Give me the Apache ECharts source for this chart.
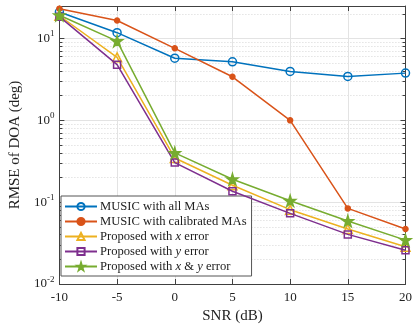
<!DOCTYPE html>
<html>
<head>
<meta charset="utf-8">
<script src="https://cdn.jsdelivr.net/npm/echarts@6/dist/echarts.min.js"></script>
<style>
  html, body { margin: 0; padding: 0; background: #fff; }
  #main { width: 415px; height: 333px; }
</style>
</head>
<body>
<div id="main"></div>
<script>
// SNR values (dB)
var snr = [-10, -5, 0, 5, 10, 15, 20];
var seriesNames = [
  'MUSIC with all MAs',
  'MUSIC with calibrated MAs',
  'Proposed with x error',
  'Proposed with y error',
  'Proposed with x & y error'
];
// RMSE of DOA (deg)
var musicAll = [21.1, 11.8, 5.75, 5.2, 3.96, 3.44, 3.78];
var musicCal = [23.2, 16.6, 7.6, 3.41, 1.0, 0.084, 0.047];
var propX = [19.0, 5.9, 0.347, 0.161, 0.081, 0.047, 0.0285];
var propY = [18.5, 4.8, 0.305, 0.136, 0.073, 0.0404, 0.0258];
var propXY = [19.3, 9.3, 0.40, 0.191, 0.104, 0.059, 0.0344];
// minor log grid values
var minorVals = [];
[0.01, 0.1, 1, 10].forEach(function (d) {
  for (var k = 2; k <= 9; k++) {
    var v = +(d * k).toPrecision(3);
    if (v <= 25) minorVals.push(v);
  }
});

var colors = ['#0072BD', '#D95319', '#EDB120', '#7E2F8E', '#77AC30'];
var starPath = 'path://M50,0 L61,35 L98,35 L68,57 L79,91 L50,70 L21,91 L32,57 L2,35 L39,35 Z';
var symbols = ['circle', 'circle', 'triangle', 'rect', starPath];
var symSizes = [8, 5, 9, 7, 11];
var filled = [false, true, false, false, true];
var allData = [musicAll, musicCal, propX, propY, propXY];

var FONT = '"Liberation Serif", "Times New Roman", serif';
var axisCol = '#404040';

var chartDom = document.getElementById('main');
var myChart = echarts.init(chartDom);

var series = allData.map(function (d, i) {
  return {
    name: seriesNames[i],
    type: 'line',
    data: snr.map(function (x, j) { return [x, d[j]]; }),
    symbol: symbols[i],
    symbolSize: symSizes[i],
    showAllSymbol: true,
    lineStyle: { color: colors[i], width: 1.5 },
    itemStyle: {
      color: filled[i] ? colors[i] : 'rgba(255,255,255,0)',
      borderColor: colors[i],
      borderWidth: 1.5
    },
    z: 3 + i,
    animation: false
  };
});

var option = {
  animation: false,
  textStyle: { fontFamily: FONT },
  grid: { left: 52, right: 6, top: 6, bottom: 49 },
  legend: {
    orient: 'vertical',
    left: 61,
    top: 196,
    padding: [4, 5, 3, 3],
    itemGap: 2,
    itemWidth: 32,
    itemHeight: 9,
    backgroundColor: '#fff',
    borderColor: '#555',
    borderWidth: 1,
    borderRadius: 0,
    data: seriesNames,
    textStyle: {
      fontFamily: FONT, fontSize: 12.6, color: '#222', padding: [0, 0, 0, -2],
      rich: { i: { fontFamily: FONT, fontSize: 12.6, fontStyle: 'italic', color: '#222' } }
    },
    formatter: function (name) {
      return name.replace(/ (x|y)( |$)/g, ' {i|$1}$2');
    }
  },
  xAxis: [{
    type: 'value', min: -10, max: 20, interval: 5,
    name: 'SNR (dB)', nameLocation: 'middle', nameGap: 25,
    nameTextStyle: { fontFamily: FONT, fontSize: 15, color: '#222' },
    axisLine: { show: true, onZero: false, lineStyle: { color: axisCol, width: 1 } },
    axisTick: { inside: true, length: 5, lineStyle: { color: axisCol } },
    axisLabel: { fontFamily: FONT, fontSize: 13, color: '#222', margin: 7 },
    splitLine: { show: true, lineStyle: { color: '#e3e3e3', width: 1 } }
  }, {
    type: 'value', min: -10, max: 20, interval: 5, position: 'top',
    axisLine: { show: true, onZero: false, lineStyle: { color: axisCol, width: 1 } },
    axisTick: { inside: true, length: 5, lineStyle: { color: axisCol } },
    axisLabel: { show: false },
    splitLine: { show: false }
  }],
  yAxis: [{
    type: 'log', logBase: 10, min: 0.01, max: 25,
    name: 'RMSE of DOA (deg)', nameLocation: 'middle', nameGap: 36,
    nameTextStyle: { fontFamily: FONT, fontSize: 15, color: '#222' },
    axisLine: { show: true, onZero: false, lineStyle: { color: axisCol, width: 1 } },
    axisTick: { inside: true, length: 5, lineStyle: { color: axisCol } },
    axisLabel: {
      margin: 5, color: '#222',
      formatter: function (v) {
        var e = Math.log10(v);
        if (Math.abs(e - Math.round(e)) > 1e-6) return '';
        return '{b|10}{e|' + Math.round(e) + '}';
      },
      rich: {
        b: { fontFamily: FONT, fontSize: 13, color: '#222' },
        e: { fontFamily: FONT, fontSize: 9, color: '#222', padding: [0, 0, 9, 0] }
      }
    },
    splitLine: { show: true, lineStyle: { color: '#e3e3e3', width: 1 } }
  }, {
    type: 'log', logBase: 10, min: 0.01, max: 25, position: 'right',
    axisLine: { show: true, onZero: false, lineStyle: { color: axisCol, width: 1 } },
    axisTick: { inside: true, length: 5, lineStyle: { color: axisCol } },
    axisLabel: { show: false },
    splitLine: { show: false }
  }, {
    type: 'log', logBase: 10, min: 0.01, max: 25, position: 'left',
    axisLine: { show: false, onZero: false },
    axisTick: { show: true, inside: true, length: 3, customValues: minorVals, lineStyle: { color: axisCol } },
    axisLabel: { show: false, customValues: minorVals },
    splitLine: { show: true, lineStyle: { color: '#d6d6d6', type: [1, 2], width: 1 } }
  }, {
    type: 'log', logBase: 10, min: 0.01, max: 25, position: 'right',
    axisLine: { show: false, onZero: false },
    axisTick: { show: true, inside: true, length: 3, customValues: minorVals, lineStyle: { color: axisCol } },
    axisLabel: { show: false, customValues: minorVals },
    splitLine: { show: false }
  }],
  series: series
};
myChart.setOption(option);
</script>
</body>
</html>
